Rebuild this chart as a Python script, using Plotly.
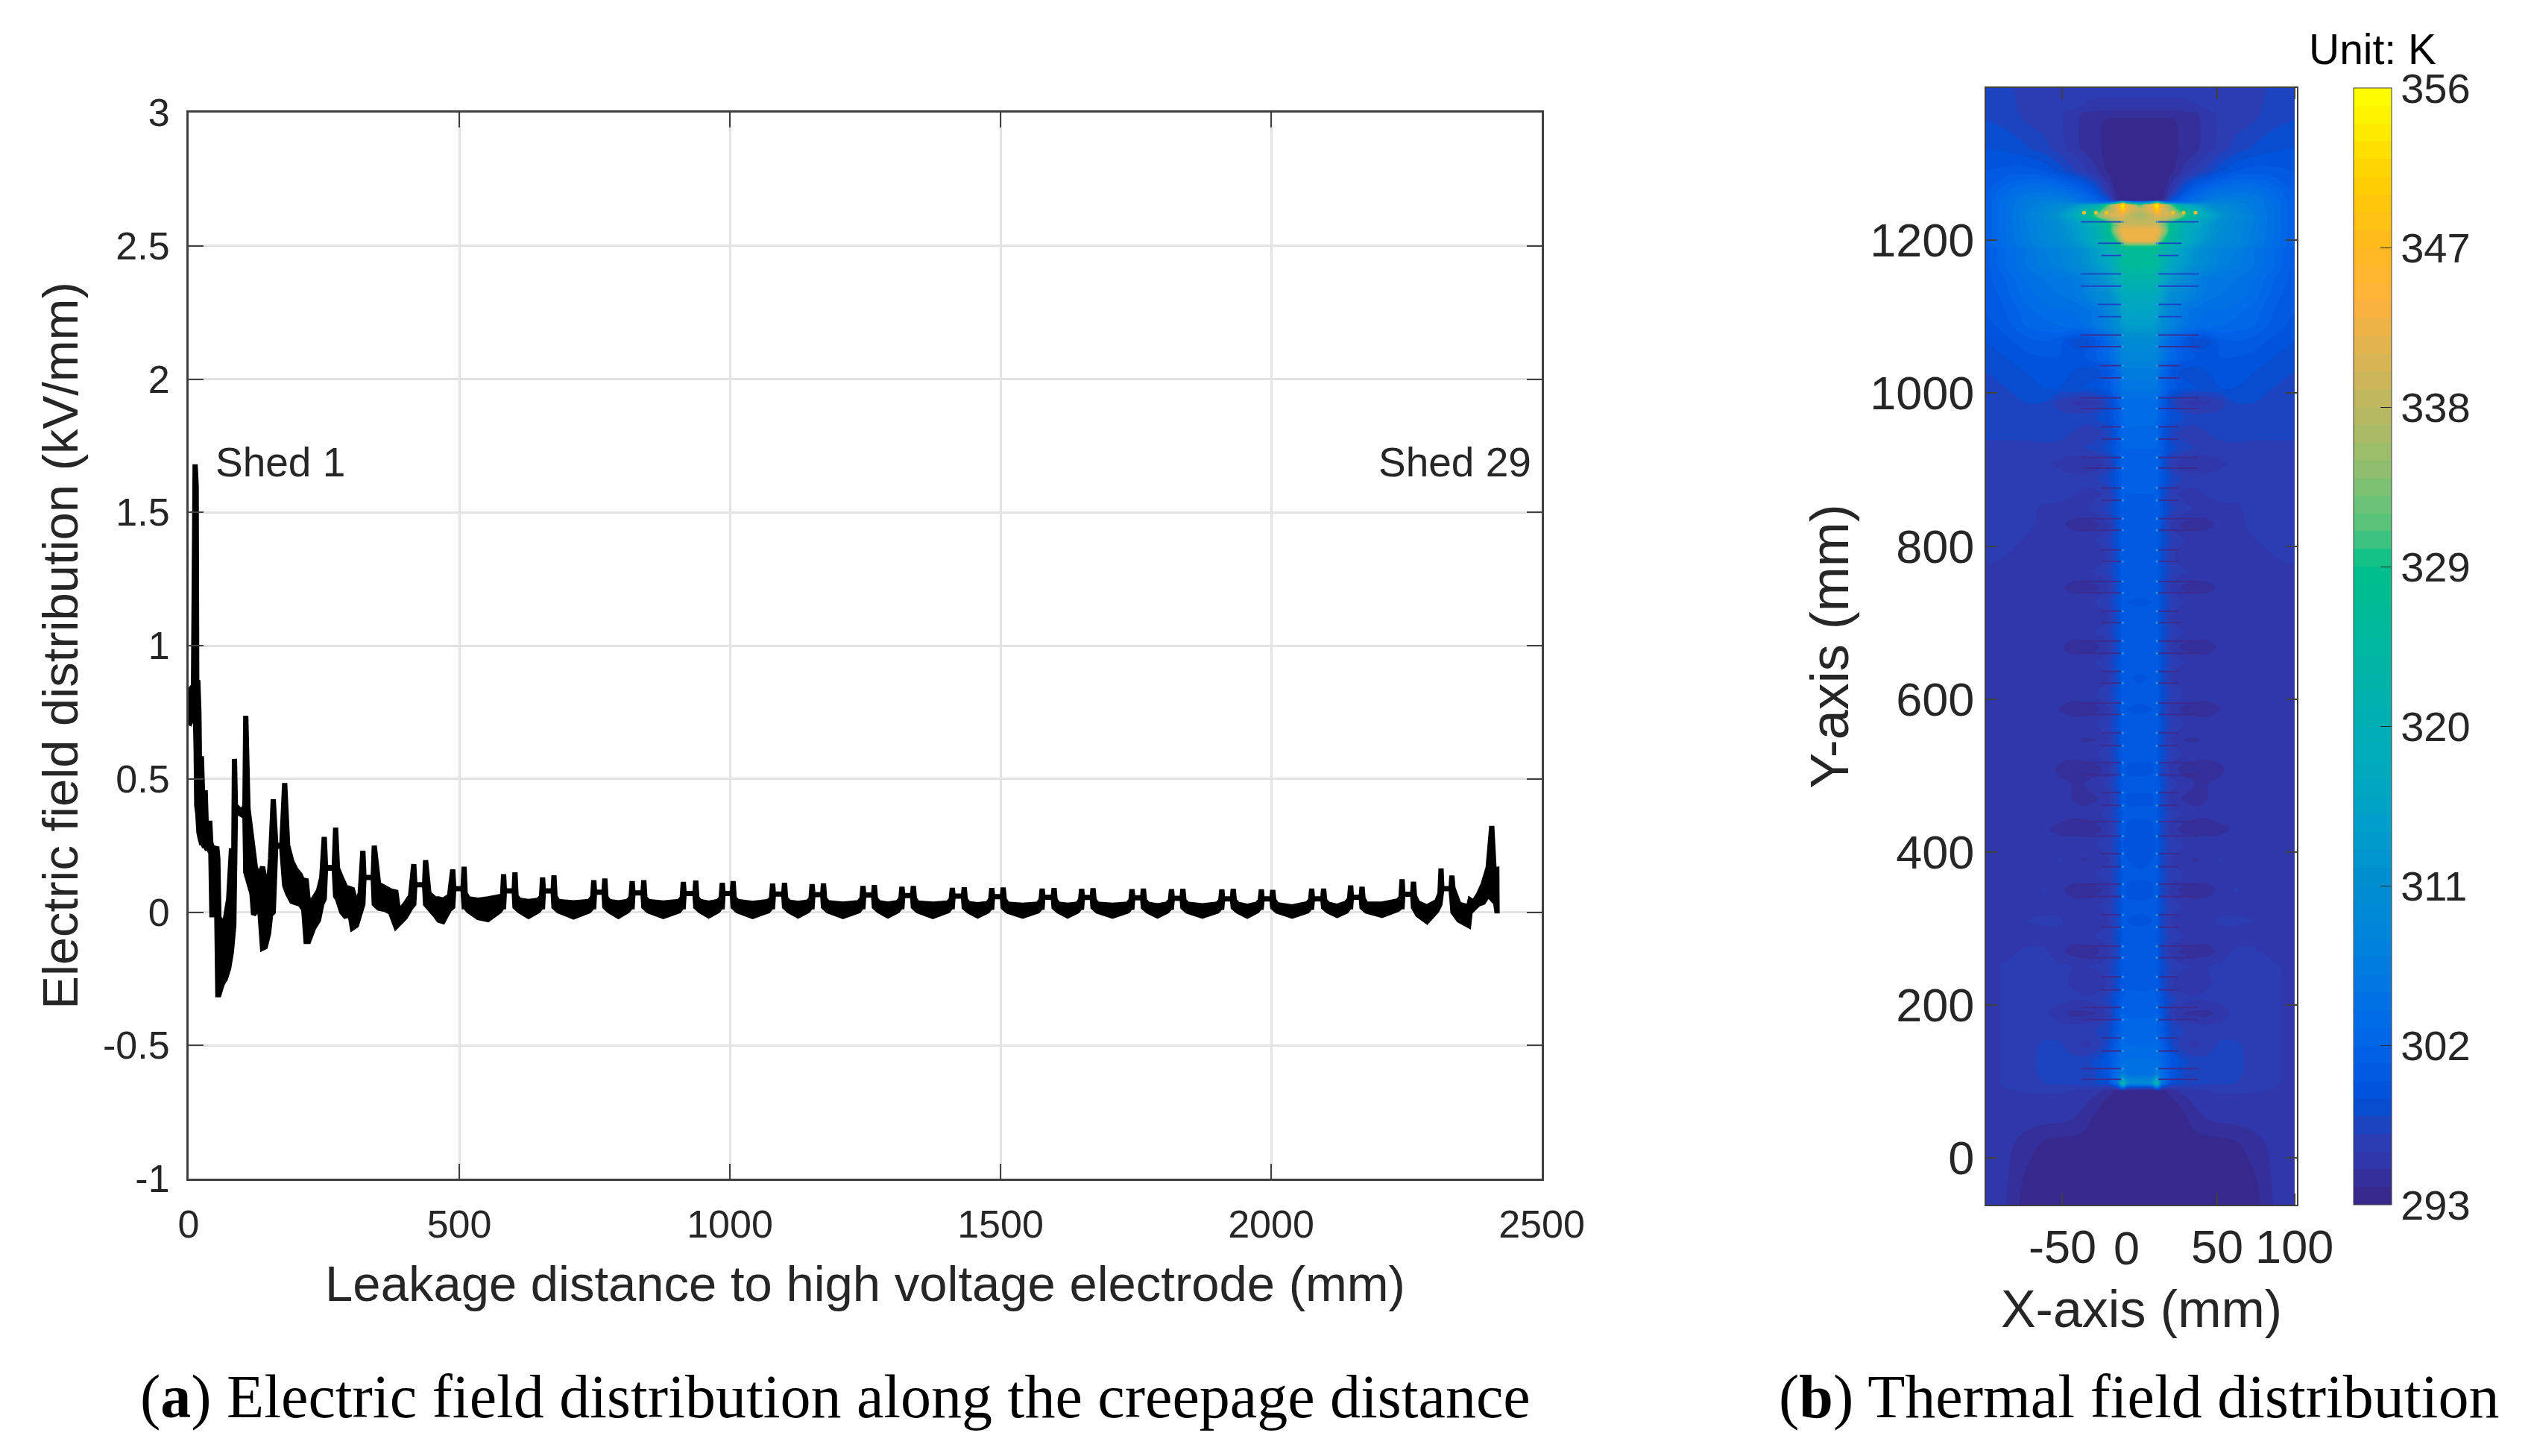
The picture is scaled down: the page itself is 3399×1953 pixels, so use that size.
import plotly.graph_objects as go

W, H = 3399, 1953

# ---------- panel (a): creepage distance, envelope of the densely oscillating curve ----------
leakage_mm = [
    0.5, 1, 5, 9, 12, 14, 15, 17, 19, 21, 23.6, 26, 28, 30.6, 33, 36, 39, 41, 43, 46, 49, 52, 54, 56,
    61.9, 68, 74, 79, 83.5, 84.7, 86.5, 98.6, 104, 105.6, 109.7, 117, 120, 123.2, 129.3, 136.6, 141.6, 147.7, 151.4,
    156.4, 161, 172, 177.5, 183, 190.7, 198, 206, 212.7, 217, 221.6, 230.8, 240, 246,
    250.6, 253, 269, 271.6, 275, 283, 291, 296, 302.6, 310, 317,
    322, 324, 341, 343, 351, 363, 373, 383, 388, 400, 410,
    416, 418, 436, 437.8, 444, 455, 462, 470, 482,
    488, 490, 507, 509, 511, 517, 535, 553, 575,
    580, 582, 583.5, 601.5, 603, 605, 611, 628, 646,
    652, 654, 655.5, 673.5, 675, 677, 683, 711, 740,
    746.6, 748.6, 750, 767.5, 769, 771, 777, 794, 811,
    817.5, 819.5, 821, 839.5, 841, 843, 849, 877, 906,
    912, 914, 915.5, 935.5, 937, 939, 945, 961, 978,
    984, 986, 987.5, 1004.5, 1006, 1008, 1014, 1042, 1071,
    1077, 1079, 1080.5, 1099.5, 1101, 1103, 1109, 1126, 1144,
    1150, 1152, 1153.5, 1171.5, 1173, 1175, 1181, 1209, 1238,
    1244, 1246, 1247.5, 1265.5, 1267, 1269, 1275, 1292, 1310,
    1316, 1318, 1319.5, 1337.5, 1339, 1341, 1347, 1375, 1403,
    1409, 1411, 1412.5, 1431.5, 1433, 1435, 1441, 1458, 1476,
    1482, 1484, 1485.5, 1503.5, 1505, 1507, 1513, 1541, 1569,
    1575, 1577, 1578.5, 1597.5, 1599, 1601, 1607, 1624, 1642,
    1648, 1650, 1651.5, 1669.5, 1671, 1673, 1679, 1707, 1735,
    1741, 1743, 1744.5, 1762.5, 1764, 1766, 1772, 1790, 1808,
    1814, 1816, 1817.5, 1835.5, 1837, 1839, 1845, 1873, 1901,
    1907, 1909, 1910.5, 1928.5, 1930, 1932, 1938, 1956, 1974,
    1980, 1982, 1983.5, 2001.5, 2003, 2005, 2011, 2039, 2067,
    2073, 2075, 2076.5, 2095.5, 2097, 2099, 2105, 2122, 2139,
    2145, 2147, 2148.5, 2166.5, 2168, 2170, 2176, 2205, 2234,
    2240, 2242, 2243.5, 2261.5, 2263, 2265, 2271, 2288, 2306,
    2312, 2314, 2315.5, 2332.5, 2334, 2336, 2347, 2360, 2365,
    2367.7, 2374, 2383, 2392, 2401, 2407.7, 2412, 2417, 2417.5,
]
field_low = [
    0.70, 0.70, 0.72, 0.74, 0.80, 0.60, 0.40, 0.37, 0.30, 0.28, 0.26, 0.26, 0.25, 0.25, 0.24, 0.24, 0.23, 0.23, -0.01, -0.01, -0.01, 0.0, -0.31, -0.31,
    -0.27, -0.25, -0.21, -0.15, -0.05, 0.0, 0.38, 0.365, 0.37, 0.15, 0.13, 0.07, -0.01, 0.0, 0.07, -0.135, -0.13, -0.08, -0.01,
    0.0, 0.25, 0.245, 0.10, 0.07, 0.04, 0.035, 0.03, 0.01, -0.11, -0.11, -0.06, -0.03, 0.03,
    0.05, 0.165, 0.165, 0.06, 0.05, 0.0, -0.02, 0.02, -0.06, -0.05, -0.01,
    0.03, 0.13, 0.13, 0.03, 0.015, 0.01, 0.0, -0.055, -0.05, -0.02, 0.015,
    0.03, 0.103, 0.103, 0.03, 0.02, -0.01, -0.03, -0.035, 0.01,
    0.02, 0.088, 0.088, 0.02, 0.02, 0.005, -0.02, -0.028, 0.005,
    0.02, 0.02, 0.08, 0.08, 0.02, 0.02, 0.005, -0.016, 0.005,
    0.02, 0.02, 0.08, 0.08, 0.02, 0.02, 0.005, -0.018, 0.005,
    0.02, 0.02, 0.075, 0.075, 0.02, 0.02, 0.005, -0.016, 0.005,
    0.02, 0.02, 0.072, 0.072, 0.02, 0.02, 0.005, -0.016, 0.005,
    0.02, 0.02, 0.07, 0.07, 0.02, 0.02, 0.005, -0.014, 0.005,
    0.02, 0.02, 0.07, 0.07, 0.02, 0.02, 0.005, -0.016, 0.005,
    0.02, 0.02, 0.068, 0.068, 0.02, 0.02, 0.005, -0.014, 0.005,
    0.02, 0.02, 0.066, 0.066, 0.02, 0.02, 0.005, -0.016, 0.005,
    0.02, 0.02, 0.064, 0.064, 0.02, 0.02, 0.005, -0.014, 0.005,
    0.02, 0.02, 0.062, 0.062, 0.02, 0.02, 0.005, -0.016, 0.005,
    0.02, 0.02, 0.06, 0.06, 0.018, 0.018, 0.004, -0.014, 0.004,
    0.018, 0.018, 0.058, 0.058, 0.018, 0.018, 0.004, -0.015, 0.004,
    0.018, 0.018, 0.056, 0.056, 0.018, 0.018, 0.004, -0.014, 0.004,
    0.018, 0.018, 0.055, 0.055, 0.018, 0.018, 0.004, -0.015, 0.004,
    0.018, 0.018, 0.054, 0.054, 0.018, 0.018, 0.004, -0.014, 0.004,
    0.018, 0.018, 0.052, 0.052, 0.018, 0.018, 0.004, -0.015, 0.004,
    0.018, 0.018, 0.05, 0.05, 0.018, 0.018, 0.004, -0.015, 0.004,
    0.018, 0.018, 0.05, 0.05, 0.018, 0.018, 0.004, -0.015, 0.004,
    0.018, 0.018, 0.05, 0.05, 0.018, 0.018, 0.004, -0.012, 0.004,
    0.02, 0.02, 0.056, 0.056, 0.018, 0.018, 0.004, -0.012, 0.01,
    0.02, 0.02, 0.067, 0.067, 0.018, 0.012, -0.01, -0.035, 0.005,
    0.03, 0.03, 0.088, 0.088, 0.03, 0.0, -0.03, -0.045, -0.05,
    0.0, 0.015, 0.03, 0.037, 0.065, 0.05, 0.075, 0.005, 0.005,
]
field_high = [
    0.72, 0.82, 0.84, 0.85, 1.68, 1.60, 0.86, 0.87, 0.75, 0.40, 0.585, 0.36, 0.30, 0.457, 0.30, 0.30, 0.343, 0.26, 0.24, 0.23, 0.235, 0.245, 0.2, -0.02,
    -0.04, -0.025, 0.05, 0.23, 0.23, 0.575, 0.40, 0.375, 0.40, 0.737, 0.39, 0.26, 0.20, 0.17, 0.13, 0.17, 0.12, 0.10, 0.20,
    0.423, 0.255, 0.245, 0.484, 0.25, 0.19, 0.16, 0.14, 0.11, 0.125, 0.03, 0.05, 0.08, 0.13,
    0.282, 0.17, 0.165, 0.317, 0.165, 0.125, 0.09, 0.09, 0.085, 0.03, 0.07,
    0.23, 0.13, 0.13, 0.249, 0.105, 0.09, 0.08, 0.075, 0.0, 0.03, 0.06,
    0.18, 0.103, 0.103, 0.195, 0.07, 0.05, 0.05, 0.045, 0.06,
    0.16, 0.088, 0.088, 0.17, 0.07, 0.05, 0.045, 0.05, 0.055,
    0.06, 0.142, 0.08, 0.08, 0.149, 0.06, 0.045, 0.04, 0.045,
    0.058, 0.13, 0.08, 0.08, 0.138, 0.058, 0.04, 0.035, 0.04,
    0.056, 0.12, 0.075, 0.075, 0.126, 0.056, 0.04, 0.035, 0.04,
    0.055, 0.116, 0.072, 0.072, 0.12, 0.055, 0.04, 0.034, 0.04,
    0.054, 0.113, 0.07, 0.07, 0.118, 0.054, 0.04, 0.034, 0.04,
    0.053, 0.11, 0.07, 0.07, 0.116, 0.053, 0.04, 0.033, 0.04,
    0.052, 0.107, 0.068, 0.068, 0.11, 0.052, 0.038, 0.033, 0.038,
    0.05, 0.105, 0.066, 0.066, 0.108, 0.05, 0.036, 0.03, 0.036,
    0.05, 0.098, 0.064, 0.064, 0.101, 0.05, 0.036, 0.03, 0.036,
    0.05, 0.095, 0.062, 0.062, 0.098, 0.05, 0.034, 0.03, 0.034,
    0.048, 0.091, 0.06, 0.06, 0.093, 0.048, 0.032, 0.028, 0.032,
    0.048, 0.09, 0.058, 0.058, 0.092, 0.048, 0.03, 0.026, 0.03,
    0.046, 0.088, 0.056, 0.056, 0.09, 0.046, 0.03, 0.026, 0.03,
    0.046, 0.087, 0.055, 0.055, 0.089, 0.046, 0.03, 0.026, 0.03,
    0.045, 0.086, 0.054, 0.054, 0.088, 0.045, 0.03, 0.024, 0.03,
    0.045, 0.086, 0.052, 0.052, 0.087, 0.045, 0.03, 0.024, 0.03,
    0.045, 0.085, 0.05, 0.05, 0.087, 0.045, 0.03, 0.022, 0.03,
    0.045, 0.085, 0.05, 0.05, 0.083, 0.045, 0.028, 0.02, 0.032,
    0.045, 0.088, 0.05, 0.05, 0.088, 0.045, 0.03, 0.022, 0.034,
    0.05, 0.10, 0.056, 0.056, 0.095, 0.05, 0.03, 0.03, 0.042,
    0.055, 0.123, 0.067, 0.067, 0.114, 0.06, 0.035, 0.02, 0.04,
    0.07, 0.164, 0.088, 0.088, 0.137, 0.09, 0.03, 0.02, 0.02,
    0.046, 0.037, 0.065, 0.106, 0.167, 0.323, 0.158, 0.16, 0.005,
]
field_xticks = [0, 500, 1000, 1500, 2000, 2500]
field_yticks = [-1, -0.5, 0, 0.5, 1, 1.5, 2, 2.5, 3]
field_yticklabels = ["-1", "-0.5", "0", "0.5", "1", "1.5", "2", "2.5", "3"]

# ---------- panel (b): thermal field, symmetric about x = 0, read as half rows ----------
half_x_mm = [0, 8, 11, 14, 20, 28, 36, 44, 52, 62, 74, 87, 100]
row_y_mm = [
    1399, 1375, 1365, 1355, 1320, 1290, 1262, 1252, 1249, 1246, 1240, 1232, 1222, 1212, 1199, 1192,
    1188, 1168, 1148, 1128, 1108, 1088, 1068, 1048, 1028, 1008, 988, 968, 948, 928, 908,
    888, 868, 848, 828, 808, 787, 767, 746, 727, 707, 688, 668, 648, 628, 607, 587, 567, 547, 528, 509, 489, 470, 450,
    430, 410, 390, 370, 350, 330, 310, 290, 270, 250, 228, 208, 189, 168, 148, 128, 110, 98, 92, 88, 75, 55, 18, -30, -61,
]
temperature_half_rows = [
    [296.5, 296.5, 296.5, 296.5, 296.5, 296.5, 296.5, 296.5, 296.5, 296.5, 296.6, 297.3, 297.5],
    [295.5, 295.5, 295.5, 295.5, 295.5, 295.6, 295.9, 296.3, 296.5, 296.5, 296.7, 297.4, 297.6],
    [294.5, 294.5, 294.5, 294.5, 294.5, 294.6, 294.8, 295.6, 296.2, 296.5, 296.8, 297.5, 297.8],
    [293.5, 293.5, 293.5, 293.5, 293.6, 294.5, 294.7, 295.5, 296.2, 296.6, 297.0, 297.7, 298.1],
    [293.5, 293.5, 293.5, 293.5, 293.6, 294.3, 294.7, 295.6, 296.5, 297.4, 298.2, 298.8, 299.0],
    [293.3, 293.3, 293.3, 293.3, 293.7, 295.2, 296.4, 297.5, 298.7, 300.0, 300.5, 300.3, 300.0],
    [293.3, 293.3, 293.3, 293.3, 296.0, 299.5, 302.0, 303.5, 304.5, 305.0, 304.8, 303.0, 300.8],
    [293.3, 293.3, 293.3, 293.5, 299.0, 302.0, 304.0, 306.0, 307.0, 307.0, 306.0, 303.8, 300.8],
    [310.0, 320.0, 335.0, 320.0, 305.0, 305.0, 306.0, 308.0, 308.0, 307.5, 306.0, 304.0, 301.0],
    [331.0, 344.0, 355.5, 344.0, 332.0, 318.0, 315.0, 311.0, 309.5, 308.0, 306.0, 304.0, 301.0],
    [338.0, 342.0, 351.0, 342.0, 336.0, 326.0, 320.0, 314.0, 310.5, 308.5, 306.5, 304.0, 301.0],
    [336.0, 339.0, 341.0, 341.0, 340.0, 332.0, 323.0, 317.0, 312.5, 309.5, 307.0, 304.0, 301.0],
    [339.0, 339.0, 339.0, 335.0, 328.0, 321.0, 317.0, 313.5, 311.0, 309.0, 306.8, 304.0, 301.0],
    [343.0, 343.0, 343.0, 339.0, 327.0, 320.0, 316.0, 313.0, 310.8, 308.8, 306.6, 304.0, 301.0],
    [342.0, 342.0, 339.0, 331.0, 325.0, 319.0, 315.0, 312.0, 310.0, 308.5, 306.4, 303.8, 301.0],
    [329.0, 329.0, 328.0, 326.0, 322.0, 317.0, 313.0, 311.0, 309.0, 308.0, 306.0, 303.5, 301.0],
    [327.0, 327.0, 326.0, 323.0, 319.0, 315.0, 312.0, 309.5, 308.0, 307.0, 305.0, 303.0, 300.5],
    [326.0, 326.0, 325.0, 322.0, 317.0, 314.0, 311.0, 309.0, 307.5, 306.5, 305.0, 303.0, 300.5],
    [322.0, 322.0, 321.0, 318.0, 313.0, 310.0, 307.0, 306.0, 305.5, 305.0, 304.0, 302.0, 300.5],
    [318.0, 318.0, 317.0, 315.0, 311.0, 309.0, 307.0, 305.5, 305.0, 304.5, 303.5, 301.5, 300.0],
    [316.0, 316.0, 315.0, 312.0, 308.0, 305.5, 304.5, 304.0, 304.0, 303.5, 302.5, 301.0, 300.0],
    [314.0, 314.0, 313.0, 311.0, 308.0, 305.5, 304.0, 303.5, 303.0, 302.5, 302.0, 300.5, 299.5],
    [310.0, 310.0, 309.0, 306.0, 303.0, 300.0, 298.0, 298.5, 300.5, 301.0, 300.5, 299.7, 299.0],
    [308.5, 308.5, 308.0, 306.0, 303.0, 301.0, 300.0, 300.0, 300.0, 300.0, 299.7, 299.0, 298.5],
    [306.5, 306.5, 306.0, 303.0, 300.0, 298.5, 298.5, 299.0, 299.5, 299.5, 299.0, 298.5, 298.0],
    [305.5, 305.5, 305.0, 303.0, 300.5, 299.5, 299.0, 299.0, 299.0, 299.0, 298.7, 298.0, 297.5],
    [303.5, 303.5, 303.0, 301.0, 297.8, 296.0, 295.5, 295.8, 296.5, 298.0, 298.0, 297.5, 297.5],
    [303.5, 303.5, 303.0, 301.0, 299.0, 298.0, 297.5, 297.5, 297.5, 297.7, 297.6, 297.5, 297.5],
    [302.5, 302.5, 302.5, 300.0, 297.5, 296.5, 296.5, 297.0, 297.2, 297.3, 297.2, 297.2, 297.2],
    [302.0, 302.0, 302.0, 300.5, 298.5, 297.5, 297.0, 296.8, 296.8, 296.8, 296.8, 296.8, 296.8],
    [301.5, 301.5, 302.0, 299.5, 296.5, 295.3, 295.0, 295.2, 295.7, 296.3, 296.5, 296.5, 296.5],
    [301.5, 301.5, 301.5, 300.0, 298.0, 296.8, 296.5, 296.5, 296.5, 296.5, 296.5, 296.5, 296.5],
    [301.0, 301.0, 301.5, 299.0, 296.5, 295.7, 295.7, 296.1, 296.5, 296.5, 296.5, 296.5, 296.5],
    [301.0, 301.0, 301.0, 299.5, 297.5, 296.5, 295.8, 295.5, 295.5, 295.7, 296.5, 296.5, 296.5],
    [300.5, 300.5, 301.0, 299.0, 295.8, 294.7, 294.5, 294.7, 295.3, 295.7, 296.3, 296.5, 296.5],
    [300.5, 300.5, 300.7, 299.0, 297.2, 296.1, 295.7, 295.6, 295.5, 295.5, 295.9, 296.4, 296.5],
    [300.5, 300.5, 301.0, 298.7, 296.3, 295.3, 295.1, 295.4, 295.5, 295.5, 295.6, 296.0, 296.3],
    [301.0, 301.0, 300.7, 299.0, 297.2, 296.2, 295.8, 295.6, 295.5, 295.5, 295.5, 295.6, 295.8],
    [300.5, 300.5, 301.0, 298.5, 295.9, 294.8, 294.5, 294.7, 295.2, 295.5, 295.5, 295.5, 295.5],
    [299.8, 300.0, 300.5, 299.0, 297.0, 296.0, 295.7, 295.5, 295.5, 295.5, 295.5, 295.5, 295.5],
    [300.5, 300.5, 301.0, 298.6, 296.0, 295.2, 295.0, 295.4, 295.5, 295.5, 295.5, 295.5, 295.5],
    [300.8, 300.8, 300.5, 299.0, 297.0, 296.1, 295.6, 295.5, 295.5, 295.5, 295.5, 295.5, 295.5],
    [300.3, 300.5, 301.0, 298.5, 295.8, 294.7, 294.5, 294.6, 295.2, 295.5, 295.5, 295.5, 295.5],
    [300.8, 300.8, 300.5, 299.0, 297.0, 296.1, 295.7, 295.5, 295.5, 295.5, 295.5, 295.5, 295.5],
    [299.7, 300.2, 301.0, 298.4, 296.0, 295.2, 295.0, 295.3, 295.5, 295.5, 295.5, 295.5, 295.5],
    [300.5, 300.5, 300.4, 299.0, 297.0, 296.0, 295.6, 295.5, 295.5, 295.5, 295.5, 295.5, 295.5],
    [299.7, 300.0, 300.8, 298.3, 295.8, 294.7, 294.5, 294.5, 295.0, 295.5, 295.5, 295.5, 295.5],
    [300.5, 300.5, 300.4, 299.0, 296.9, 296.0, 295.6, 295.5, 295.5, 295.5, 295.5, 295.5, 295.5],
    [300.0, 300.0, 300.6, 298.3, 295.9, 295.0, 294.9, 295.2, 295.5, 295.5, 295.5, 295.5, 295.5],
    [300.4, 300.4, 300.2, 298.8, 296.8, 295.9, 295.5, 295.3, 295.4, 295.5, 295.5, 295.5, 295.5],
    [299.6, 299.8, 300.7, 298.0, 295.5, 294.6, 294.4, 294.5, 294.8, 295.5, 295.5, 295.5, 295.5],
    [300.4, 300.4, 300.2, 298.7, 296.5, 295.5, 295.0, 295.0, 295.2, 295.5, 295.5, 295.5, 295.5],
    [299.8, 299.8, 300.6, 298.0, 295.7, 294.9, 294.7, 295.0, 295.5, 295.5, 295.5, 295.5, 295.5],
    [300.2, 300.2, 300.0, 298.6, 296.6, 295.7, 295.3, 295.2, 295.5, 295.5, 295.5, 295.5, 295.5],
    [299.5, 299.8, 300.6, 298.0, 295.6, 294.6, 294.4, 294.5, 294.7, 295.2, 295.5, 295.5, 295.5],
    [300.0, 300.0, 300.0, 298.5, 296.6, 296.0, 295.8, 295.6, 295.5, 295.5, 295.5, 295.5, 295.5],
    [299.6, 300.0, 300.5, 298.0, 296.0, 295.3, 294.9, 295.3, 296.1, 295.6, 295.5, 295.5, 295.5],
    [300.2, 300.2, 300.0, 298.5, 296.5, 296.0, 295.7, 295.5, 295.5, 295.5, 295.5, 295.5, 295.5],
    [299.6, 299.8, 300.6, 298.0, 295.6, 294.6, 294.4, 294.6, 295.3, 296.1, 295.5, 295.5, 295.5],
    [300.2, 300.2, 300.0, 298.5, 296.6, 295.8, 295.5, 295.5, 295.5, 295.6, 295.5, 295.5, 295.5],
    [299.8, 300.0, 300.6, 298.0, 296.0, 295.2, 295.0, 295.5, 296.2, 296.2, 296.0, 295.5, 295.5],
    [300.3, 300.3, 300.0, 298.5, 296.6, 296.0, 295.7, 295.5, 295.5, 295.5, 295.5, 295.5, 295.5],
    [300.0, 300.0, 300.7, 298.0, 295.7, 294.7, 294.4, 294.6, 295.3, 296.2, 296.2, 295.6, 295.5],
    [300.6, 300.6, 300.2, 298.7, 297.0, 296.2, 295.9, 296.0, 296.2, 296.3, 296.3, 296.2, 295.5],
    [300.5, 300.6, 300.8, 298.5, 296.2, 295.2, 295.1, 295.9, 296.2, 296.3, 296.3, 296.2, 295.5],
    [301.5, 301.5, 301.0, 299.5, 297.5, 296.5, 296.2, 296.2, 296.3, 296.3, 296.3, 296.2, 295.5],
    [301.8, 301.8, 302.0, 299.8, 296.5, 295.0, 294.7, 294.7, 295.5, 296.3, 296.3, 296.2, 295.5],
    [302.5, 302.5, 302.2, 300.5, 298.0, 297.0, 296.7, 296.5, 296.5, 296.5, 296.4, 296.2, 295.5],
    [303.0, 303.0, 303.5, 301.5, 298.3, 296.2, 295.7, 296.5, 297.2, 297.2, 296.5, 296.2, 295.5],
    [304.0, 304.0, 304.0, 302.5, 300.0, 298.3, 297.5, 297.3, 297.3, 297.3, 296.6, 296.2, 295.5],
    [304.5, 305.0, 307.0, 304.0, 300.0, 298.0, 297.5, 297.0, 297.0, 297.2, 296.6, 296.2, 295.5],
    [310.0, 312.0, 325.0, 306.0, 299.0, 298.0, 297.5, 297.3, 297.2, 297.0, 296.5, 296.2, 295.5],
    [298.0, 298.0, 305.0, 298.0, 296.0, 296.5, 296.5, 296.4, 296.4, 296.4, 296.3, 296.0, 295.5],
    [293.5, 293.5, 293.5, 293.7, 294.5, 295.4, 295.8, 296.0, 296.2, 296.2, 296.1, 295.9, 295.5],
    [293.5, 293.5, 293.5, 293.5, 293.7, 294.5, 295.3, 295.5, 295.5, 295.5, 295.5, 295.5, 295.5],
    [293.5, 293.5, 293.5, 293.5, 293.5, 293.8, 294.6, 295.2, 295.5, 295.5, 295.5, 295.5, 295.5],
    [293.5, 293.5, 293.5, 293.5, 293.5, 293.5, 293.5, 293.5, 293.5, 293.8, 294.6, 295.3, 295.5],
    [293.5, 293.5, 293.5, 293.5, 293.5, 293.5, 293.5, 293.5, 293.5, 293.5, 293.8, 295.2, 295.5],
    [293.5, 293.5, 293.5, 293.5, 293.5, 293.5, 293.5, 293.5, 293.5, 293.5, 293.5, 295.1, 295.5],
]
# dark slits where the sheds sit: height and how far out each one reaches
shed_upper_y = [1224, 1196, 1180, 1156, 1140, 1116, 1100]
shed_upper_reach = [38, 27, 25, 38, 38, 27, 27]
shed_lower_y = [1076, 1061, 1036, 1020, 994, 980, 956, 940, 916, 902, 876, 860, 836, 821, 795, 780, 754, 739, 715, 700,
                676, 660, 636, 621, 595, 580, 556, 539, 517, 501, 478, 461, 440, 421, 398, 381, 358, 342, 318, 302,
                277, 262, 237, 220, 197, 181, 157, 140, 117, 103]
shed_lower_reach = [38, 38, 26, 26, 38, 38, 25, 25, 37, 37, 25, 25, 37, 37, 25, 25, 37, 37, 25, 25,
                    37, 37, 25, 25, 37, 37, 25, 25, 37, 37, 25, 25, 37, 37, 25, 25, 37, 37, 25, 25,
                    37, 37, 25, 25, 37, 37, 25, 25, 38, 38]
hot_spot_x = [-36, -28.3, -21.5, 21.5, 28.3, 36]
hot_spot_y = [1236, 1236, 1236, 1236, 1236, 1236]
colourbar_ticks = [293, 302, 311, 320, 329, 338, 347, 356]
band_temps = [293, 294, 295, 296, 297, 298, 299, 300, 302, 305, 308, 311, 314, 317, 320, 323, 326, 329, 331, 334, 338, 341,
              344, 347, 351, 354, 356]
band_colours = ["#34258a", "#372a90", "#3133a6", "#2d3aae", "#2a40b8", "#1048c8", "#0050d8", "#0058e0", "#0064e8", "#0074e2",
                "#0084da", "#008ed0", "#009ccc", "#00a8c0", "#00aeb4", "#00b4a6", "#00b998", "#00c08a", "#50c47c", "#88c070",
                "#bcb860", "#dcb452", "#ffb23c", "#ffb81e", "#ffd000", "#fff000", "#ffff00"]

assert len(leakage_mm) == len(field_low) == len(field_high)
assert len(row_y_mm) == len(temperature_half_rows)


def px(x):
    return x / W


def py(y):
    return 1 - y / H


SANS = "Liberation Sans"
SERIF = "Liberation Serif"
TXT = "#262626"

fig = go.Figure()

# (a) closed outline of the curve's envelope, stroked with the curve's own thick line
fig.add_trace(go.Scatter(
    x=leakage_mm + leakage_mm[::-1], y=field_high + field_low[::-1], mode="lines", fill="toself", fillcolor="#000000",
    line=dict(color="#000000", width=7), xaxis="x", yaxis="y", showlegend=False, hoverinfo="skip",
))

# (b) temperature field
full_x = [-v for v in half_x_mm[:0:-1]] + half_x_mm
full_z = [r[:0:-1] + r for r in temperature_half_rows][::-1]
fig.add_trace(go.Contour(
    x=full_x, y=row_y_mm[::-1], z=full_z, xaxis="x2", yaxis="y2", zmin=293, zmax=356,
    contours=dict(coloring="fill", showlines=False, start=293, end=356, size=1),
    line=dict(width=0),
    colorscale=[[(t - 293) / 63, c] for t, c in zip(band_temps, band_colours)],
    colorbar=dict(
        x=px(3157), xanchor="left", y=py(1616), yanchor="bottom", len=1498, lenmode="pixels",
        thickness=51, thicknessmode="pixels", xpad=0, ypad=0, outlinewidth=1, outlinecolor="#404040",
        tickmode="array", tickvals=colourbar_ticks, ticktext=[str(v) for v in colourbar_ticks],
        ticks="inside", ticklen=15, tickwidth=1, tickcolor="#262626",
        tickfont=dict(family=SANS, size=56, color=TXT),
    ),
    hoverinfo="skip",
))


def slits(ys, reach):
    xs, yy = [], []
    for y, r in zip(ys, reach):
        xs += [-r, -12, None, 12, r, None]
        yy += [y, y, None, y, y, None]
    return xs, yy


for ys, reach, colour in [(shed_upper_y, shed_upper_reach, "#1c44c4"), (shed_lower_y, shed_lower_reach, "#3d2a8c")]:
    sx, sy = slits(ys, reach)
    fig.add_trace(go.Scatter(x=sx, y=sy, mode="lines", line=dict(color=colour, width=1.8), xaxis="x2", yaxis="y2",
                             showlegend=False, hoverinfo="skip"))

edge_y = shed_upper_y + shed_lower_y
fig.add_trace(go.Scatter(x=[-11] * len(edge_y) + [11] * len(edge_y), y=edge_y + edge_y, mode="markers",
                         marker=dict(color="#1f9fe8", size=3), xaxis="x2", yaxis="y2", showlegend=False, hoverinfo="skip"))
fig.add_trace(go.Scatter(x=hot_spot_x, y=hot_spot_y, mode="markers", marker=dict(color="#ffc020", size=5),
                         xaxis="x2", yaxis="y2", showlegend=False, hoverinfo="skip"))

FRAME = dict(showline=True, linecolor="#404040", mirror="ticks", ticks="inside", tickcolor="#404040", zeroline=False, automargin=False)

fig.update_layout(
    width=W, height=H, margin=dict(l=0, r=0, t=0, b=0, autoexpand=False), paper_bgcolor="white", plot_bgcolor="white",
    showlegend=False, font=dict(family=SANS, color=TXT),
    xaxis=dict(domain=[px(253), px(2068)], range=[0, 2500], tickvals=field_xticks, ticklen=20, tickwidth=2, linewidth=3,
               showgrid=True, gridcolor="#e3e3e3", gridwidth=2.5, tickfont=dict(size=52), ticklabelstandoff=14,
               title=dict(text="Leakage distance to high voltage electrode (mm)", font=dict(size=67), standoff=28), **FRAME),
    yaxis=dict(domain=[py(1581), py(151)], range=[-1, 3], tickvals=field_yticks, ticktext=field_yticklabels, ticklen=20, tickwidth=2,
               linewidth=3, showgrid=True, gridcolor="#e3e3e3", gridwidth=2.5, tickfont=dict(size=52), ticklabelstandoff=12,
               title=dict(text="Electric field distribution (kV/mm)", font=dict(size=67), standoff=12), **FRAME),
    xaxis2=dict(domain=[px(2664), px(3081)], range=[-99.4, 101.6], tickvals=[-50, 50, 100], ticktext=["-50", "50", "100"],
                ticklen=15, tickwidth=2, linewidth=2, showgrid=False, tickfont=dict(size=63), ticklabelstandoff=0, anchor="y2",
                title=dict(text="X-axis (mm)", font=dict(size=70), standoff=25), **FRAME),
    yaxis2=dict(domain=[py(1616), py(118)], range=[-61, 1399], tickvals=[0, 200, 400, 600, 800, 1000, 1200], ticklen=15, tickwidth=2,
                linewidth=2, showgrid=False, tickfont=dict(size=63), ticklabelstandoff=1, anchor="x2",
                title=dict(text="Y-axis (mm)", font=dict(size=72), standoff=5), **FRAME),
    annotations=[
        dict(text="Shed 1", xref="paper", yref="paper", x=px(376), y=py(620), xanchor="center", yanchor="middle", showarrow=False, font=dict(size=55, color=TXT)),
        dict(text="Shed 29", xref="paper", yref="paper", x=px(1952), y=py(620), xanchor="center", yanchor="middle", showarrow=False, font=dict(size=55, color=TXT)),
        dict(text="Unit: K", xref="paper", yref="paper", x=px(3182), y=py(66), xanchor="center", yanchor="middle", showarrow=False, font=dict(size=57, color="#000000")),
        dict(text="0", xref="paper", yref="paper", x=px(2852), y=py(1674), xanchor="center", yanchor="middle", showarrow=False, font=dict(size=63, color=TXT)),
        dict(text="(<b>a</b>) Electric field distribution along the creepage distance", xref="paper", yref="paper",
             x=px(1120), y=py(1873), xanchor="center", yanchor="middle", showarrow=False, font=dict(family=SERIF, size=82, color="#000000")),
        dict(text="(<b>b</b>) Thermal field distribution", xref="paper", yref="paper",
             x=px(2869), y=py(1873), xanchor="center", yanchor="middle", showarrow=False, font=dict(family=SERIF, size=82, color="#000000")),
    ],
)

fig.write_html("out.html", config={"displayModeBar": False},
               post_script="document.body.style.margin='0';document.documentElement.style.overflow='hidden';")
